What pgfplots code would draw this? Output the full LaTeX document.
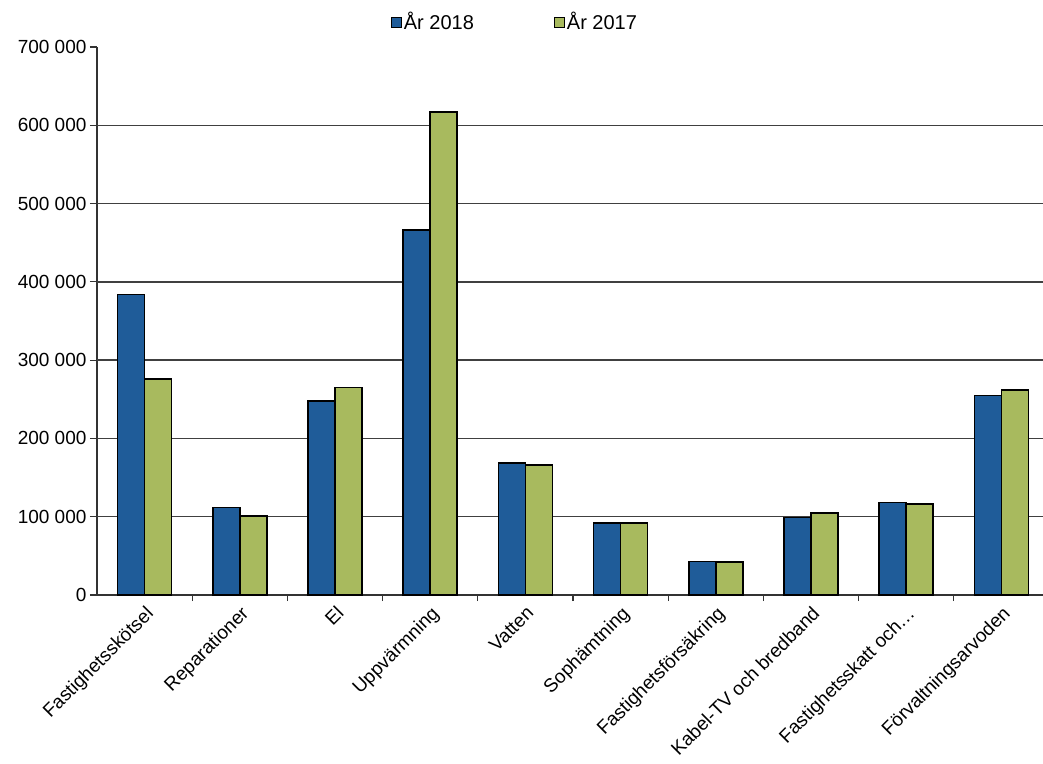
\documentclass[border=0pt]{standalone}
\usepackage{fontspec}
\setmainfont{Liberation Sans}
\usepackage{pgfplots}
\pgfplotsset{compat=1.18}
\definecolor{b18}{RGB}{31,92,153}
\definecolor{g17}{RGB}{168,186,94}

\begin{document}
\begin{tikzpicture}
\begin{axis}[
    at={(0,0)}, anchor=south west,
    width=952pt, height=548pt, scale only axis,
    ybar=0pt, bar width=27pt,
    xmin=-0.5, xmax=9.5,
    ymin=0, ymax=700000,
    axis x line*=bottom, axis y line*=left,
    axis line style={line width=1.4pt, black!80},
    xtick={0,1,2,3,4,5,6,7,8,9},
    xticklabels={Fastighetsskötsel, Reparationer, El, Uppvärmning, Vatten,
        Sophämtning, Fastighetsförsäkring, Kabel-TV och bredband,
        Fastighetsskatt och\ldots, Förvaltningsarvoden},
    major x tick style={draw=none},
    minor xtick={0.5,1.5,2.5,3.5,4.5,5.5,6.5,7.5,8.5},
    minor tick length=6pt,
    minor x tick style={line width=1.2pt, black!80},
    tick align=outside,
    ytick={0,100000,200000,300000,400000,500000,600000,700000},
    yticklabels={0,100 000,200 000,300 000,400 000,500 000,600 000,700 000},
    scaled y ticks=false,
    major tick length=7pt,
    y tick style={line width=1.2pt, black!80},
    extra y ticks={100000,200000,300000,400000,500000,600000},
    extra y tick labels={},
    extra y tick style={grid=major, major tick length=0pt},
    grid style={line width=1.5pt, black!75},
    ticklabel style={font=\fontsize{19}{22}\selectfont},
    xticklabel style={rotate=45, anchor=north east, inner sep=2pt},
    legend columns=2,
    legend style={at={(0.439,1.0456)}, anchor=center, draw=none, fill=none,
        font=\fontsize{20}{24}\selectfont,
        /tikz/every even column/.append style={column sep=78pt}},
    legend image code/.code={\draw[#1, line width=1pt] (0pt,-5pt) rectangle (10pt,5pt);},
    every axis plot/.append style={draw=black, line width=1.6pt},
]
\addplot[fill=b18] coordinates {
    (0,384000) (1,112000) (2,248000) (3,466000) (4,169000)
    (5,92000) (6,43000) (7,99000) (8,118000) (9,255000)};
\addplot[fill=g17] coordinates {
    (0,276000) (1,101000) (2,265000) (3,617000) (4,166000)
    (5,92000) (6,42000) (7,105000) (8,116000) (9,262000)};
\legend{År 2018, År 2017}
\end{axis}
\pgfresetboundingbox
\path[use as bounding box] (-97pt,-168pt) rectangle (946pt,595pt);
\end{tikzpicture}
\end{document}
